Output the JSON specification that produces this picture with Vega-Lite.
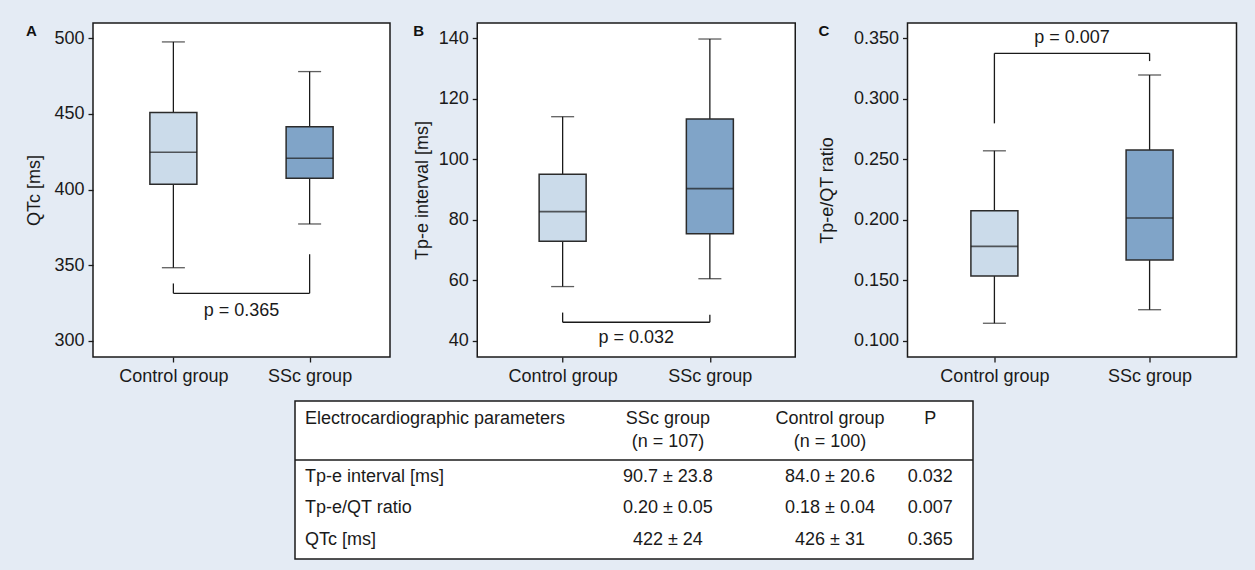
{
  "$schema": "https://vega.github.io/schema/vega-lite/v6.json",
  "background": "#e4ebf4",
  "padding": {"left": 25, "top": 22, "right": 21, "bottom": 11},
  "bounds": "full",
  "spacing": 14,
  "datasets": {
    "qtc": [
      {"group": "Control group", "min": 348.4, "q1": 403.5, "median": 424.7, "q3": 451.0, "max": 497.6},
      {"group": "SSc group", "min": 377.3, "q1": 407.5, "median": 420.7, "q3": 441.6, "max": 478.0}
    ],
    "qtc_p": [{"from": "Control group", "to": "SSc group", "bar": 331.5, "from_end": 338.0, "to_end": 357.3, "label": "p = 0.365", "label_y": 319.5}],
    "tpe": [
      {"group": "Control group", "min": 57.9, "q1": 72.9, "median": 82.7, "q3": 95.1, "max": 114.1},
      {"group": "SSc group", "min": 60.5, "q1": 75.4, "median": 90.3, "q3": 113.3, "max": 139.8}
    ],
    "tpe_p": [{"from": "Control group", "to": "SSc group", "bar": 46.1, "from_end": 49.3, "to_end": 48.6, "label": "p = 0.032", "label_y": 40.8}],
    "ratio": [
      {"group": "Control group", "min": 0.1144, "q1": 0.1535, "median": 0.178, "q3": 0.2075, "max": 0.257},
      {"group": "SSc group", "min": 0.1256, "q1": 0.1667, "median": 0.2014, "q3": 0.2577, "max": 0.3197}
    ],
    "ratio_p": [{"from": "Control group", "to": "SSc group", "bar": 0.3376, "from_end": 0.2797, "to_end": 0.3312, "label": "p = 0.007", "label_y": 0.3507}],
    "table": [
      {"param": "Tp-e interval [ms]", "ssc": "90.7 ± 23.8", "control": "84.0 ± 20.6", "p": "0.032"},
      {"param": "Tp-e/QT ratio", "ssc": "0.20 ± 0.05", "control": "0.18 ± 0.04", "p": "0.007"},
      {"param": "QTc [ms]", "ssc": "422 ± 24", "control": "426 ± 31", "p": "0.365"}
    ],
    "header": [
      {"c1": "Electrocardiographic parameters", "c2": "SSc group\n(n = 107)", "c3": "Control group\n(n = 100)", "c4": "P"}
    ],
    "separator": [{"line": "header separator"}]
  },
  "vconcat": [
    {
      "hconcat": [
        {
          "width": 297, "height": 334,
          "title": {"text": "A", "anchor": "start", "frame": "bounds", "fontSize": 15, "fontWeight": "bold", "offset": -16},
          "data": {"name": "qtc"},
          "layer": [
            {"mark": {"type": "rule", "color": "#1a1a1a", "strokeWidth": 1.3},
             "encoding": {
               "x": {"field": "group", "type": "nominal", "scale": {"type": "point", "padding": 0.59, "domain": ["Control group", "SSc group"]}, "axis": {"title": null, "labelAngle": 0}},
               "y": {"field": "min", "type": "quantitative", "scale": {"domain": [289.4, 510.1], "nice": false, "zero": false}, "axis": {"title": "QTc [ms]", "values": [300, 350, 400, 450, 500], "titlePadding": 10}},
               "y2": {"field": "max"}}},
            {"mark": {"type": "bar", "size": 47, "stroke": "#2b2b2b", "strokeWidth": 1.5},
             "encoding": {"x": {"field": "group", "type": "nominal"}, "y": {"field": "q1", "type": "quantitative"}, "y2": {"field": "q3"},
               "fill": {"field": "group", "type": "nominal", "scale": {"domain": ["Control group", "SSc group"], "range": ["#cbdbea", "#80a4c8"]}, "legend": null}}},
            {"mark": {"type": "tick", "size": 47, "thickness": 1.6, "color": "#1a1a1a"},
             "encoding": {"x": {"field": "group", "type": "nominal"}, "y": {"field": "median", "type": "quantitative"}}},
            {"mark": {"type": "tick", "size": 23, "thickness": 1.3, "color": "#1a1a1a"},
             "encoding": {"x": {"field": "group", "type": "nominal"}, "y": {"field": "min", "type": "quantitative"}}},
            {"mark": {"type": "tick", "size": 23, "thickness": 1.3, "color": "#1a1a1a"},
             "encoding": {"x": {"field": "group", "type": "nominal"}, "y": {"field": "max", "type": "quantitative"}}},
            {"data": {"name": "qtc_p"}, "mark": {"type": "rule", "color": "#1a1a1a", "strokeWidth": 1.3},
             "encoding": {"x": {"field": "from", "type": "nominal"}, "x2": {"field": "to"}, "y": {"field": "bar", "type": "quantitative"}}},
            {"data": {"name": "qtc_p"}, "mark": {"type": "rule", "color": "#1a1a1a", "strokeWidth": 1.3},
             "encoding": {"x": {"field": "from", "type": "nominal"}, "y": {"field": "bar", "type": "quantitative"}, "y2": {"field": "from_end"}}},
            {"data": {"name": "qtc_p"}, "mark": {"type": "rule", "color": "#1a1a1a", "strokeWidth": 1.3},
             "encoding": {"x": {"field": "to", "type": "nominal"}, "y": {"field": "bar", "type": "quantitative"}, "y2": {"field": "to_end"}}},
            {"data": {"name": "qtc_p"}, "mark": {"type": "text", "fontSize": 18, "baseline": "middle", "color": "#1a1a1a"},
             "encoding": {"text": {"field": "label"}, "y": {"field": "label_y", "type": "quantitative"}}}
          ]
        },
        {
          "width": 318, "height": 334,
          "title": {"text": "B", "anchor": "start", "frame": "bounds", "fontSize": 15, "fontWeight": "bold", "offset": -16},
          "data": {"name": "tpe"},
          "layer": [
            {"mark": {"type": "rule", "color": "#1a1a1a", "strokeWidth": 1.3},
             "encoding": {
               "x": {"field": "group", "type": "nominal", "scale": {"type": "point", "padding": 0.58, "domain": ["Control group", "SSc group"]}, "axis": {"title": null, "labelAngle": 0}},
               "y": {"field": "min", "type": "quantitative", "scale": {"domain": [34.6, 145.1], "nice": false, "zero": false}, "axis": {"title": "Tp-e interval [ms]", "values": [40, 60, 80, 100, 120, 140], "titlePadding": 7}},
               "y2": {"field": "max"}}},
            {"mark": {"type": "bar", "size": 47, "stroke": "#2b2b2b", "strokeWidth": 1.5},
             "encoding": {"x": {"field": "group", "type": "nominal"}, "y": {"field": "q1", "type": "quantitative"}, "y2": {"field": "q3"},
               "fill": {"field": "group", "type": "nominal", "scale": {"domain": ["Control group", "SSc group"], "range": ["#cbdbea", "#80a4c8"]}, "legend": null}}},
            {"mark": {"type": "tick", "size": 47, "thickness": 1.6, "color": "#1a1a1a"},
             "encoding": {"x": {"field": "group", "type": "nominal"}, "y": {"field": "median", "type": "quantitative"}}},
            {"mark": {"type": "tick", "size": 23, "thickness": 1.3, "color": "#1a1a1a"},
             "encoding": {"x": {"field": "group", "type": "nominal"}, "y": {"field": "min", "type": "quantitative"}}},
            {"mark": {"type": "tick", "size": 23, "thickness": 1.3, "color": "#1a1a1a"},
             "encoding": {"x": {"field": "group", "type": "nominal"}, "y": {"field": "max", "type": "quantitative"}}},
            {"data": {"name": "tpe_p"}, "mark": {"type": "rule", "color": "#1a1a1a", "strokeWidth": 1.3},
             "encoding": {"x": {"field": "from", "type": "nominal"}, "x2": {"field": "to"}, "y": {"field": "bar", "type": "quantitative"}}},
            {"data": {"name": "tpe_p"}, "mark": {"type": "rule", "color": "#1a1a1a", "strokeWidth": 1.3},
             "encoding": {"x": {"field": "from", "type": "nominal"}, "y": {"field": "bar", "type": "quantitative"}, "y2": {"field": "from_end"}}},
            {"data": {"name": "tpe_p"}, "mark": {"type": "rule", "color": "#1a1a1a", "strokeWidth": 1.3},
             "encoding": {"x": {"field": "to", "type": "nominal"}, "y": {"field": "bar", "type": "quantitative"}, "y2": {"field": "to_end"}}},
            {"data": {"name": "tpe_p"}, "mark": {"type": "text", "fontSize": 18, "baseline": "middle", "color": "#1a1a1a"},
             "encoding": {"text": {"field": "label"}, "y": {"field": "label_y", "type": "quantitative"}}}
          ]
        },
        {
          "width": 329, "height": 334,
          "title": {"text": "C", "anchor": "start", "frame": "bounds", "fontSize": 15, "fontWeight": "bold", "offset": -16},
          "data": {"name": "ratio"},
          "layer": [
            {"mark": {"type": "rule", "color": "#1a1a1a", "strokeWidth": 1.3},
             "encoding": {
               "x": {"field": "group", "type": "nominal", "scale": {"type": "point", "padding": 0.56, "domain": ["Control group", "SSc group"]}, "axis": {"title": null, "labelAngle": 0}},
               "y": {"field": "min", "type": "quantitative", "scale": {"domain": [0.0865, 0.3627], "nice": false, "zero": false}, "axis": {"title": "Tp-e/QT ratio", "values": [0.1, 0.15, 0.2, 0.25, 0.3, 0.35], "format": ".3f", "titlePadding": 17}},
               "y2": {"field": "max"}}},
            {"mark": {"type": "bar", "size": 47, "stroke": "#2b2b2b", "strokeWidth": 1.5},
             "encoding": {"x": {"field": "group", "type": "nominal"}, "y": {"field": "q1", "type": "quantitative"}, "y2": {"field": "q3"},
               "fill": {"field": "group", "type": "nominal", "scale": {"domain": ["Control group", "SSc group"], "range": ["#cbdbea", "#80a4c8"]}, "legend": null}}},
            {"mark": {"type": "tick", "size": 47, "thickness": 1.6, "color": "#1a1a1a"},
             "encoding": {"x": {"field": "group", "type": "nominal"}, "y": {"field": "median", "type": "quantitative"}}},
            {"mark": {"type": "tick", "size": 23, "thickness": 1.3, "color": "#1a1a1a"},
             "encoding": {"x": {"field": "group", "type": "nominal"}, "y": {"field": "min", "type": "quantitative"}}},
            {"mark": {"type": "tick", "size": 23, "thickness": 1.3, "color": "#1a1a1a"},
             "encoding": {"x": {"field": "group", "type": "nominal"}, "y": {"field": "max", "type": "quantitative"}}},
            {"data": {"name": "ratio_p"}, "mark": {"type": "rule", "color": "#1a1a1a", "strokeWidth": 1.3},
             "encoding": {"x": {"field": "from", "type": "nominal"}, "x2": {"field": "to"}, "y": {"field": "bar", "type": "quantitative"}}},
            {"data": {"name": "ratio_p"}, "mark": {"type": "rule", "color": "#1a1a1a", "strokeWidth": 1.3},
             "encoding": {"x": {"field": "from", "type": "nominal"}, "y": {"field": "bar", "type": "quantitative"}, "y2": {"field": "from_end"}}},
            {"data": {"name": "ratio_p"}, "mark": {"type": "rule", "color": "#1a1a1a", "strokeWidth": 1.3},
             "encoding": {"x": {"field": "to", "type": "nominal"}, "y": {"field": "bar", "type": "quantitative"}, "y2": {"field": "to_end"}}},
            {"data": {"name": "ratio_p"}, "mark": {"type": "text", "fontSize": 18, "baseline": "middle", "color": "#1a1a1a"},
             "encoding": {"text": {"field": "label"}, "y": {"field": "label_y", "type": "quantitative"}}}
          ]
        }
      ],
      "spacing": 21.25,
      "bounds": "full"
    },
    {
      "hconcat": [
        {
          "width": 200, "height": 158,
          "data": {"values": []},
          "mark": "point",
          "view": {"fill": "#e4ebf4", "stroke": null}
        },
        {
          "width": 678, "height": 158,
          "layer": [
            {"data": {"name": "header"}, "mark": {"type": "text", "align": "left", "baseline": "middle", "fontSize": 18, "color": "#1a1a1a"},
             "encoding": {"text": {"field": "c1"},
               "x": {"datum": "Electrocardiographic parameters", "type": "nominal", "scale": {"type": "point", "padding": 0, "align": 0.0147}, "axis": null},
               "y": {"datum": "header", "type": "nominal", "scale": {"type": "point", "padding": 0, "align": 0.114}, "axis": null}}},
            {"data": {"name": "header"}, "mark": {"type": "text", "align": "center", "baseline": "middle", "lineBreak": "\n", "lineHeight": 23, "fontSize": 18, "color": "#1a1a1a"},
             "encoding": {"text": {"field": "c2"},
               "x": {"datum": "SSc group", "type": "nominal", "scale": {"type": "point", "padding": 0, "align": 0.55}, "axis": null},
               "y": {"datum": "header", "type": "nominal", "scale": {"type": "point", "padding": 0, "align": 0.114}, "axis": null}}},
            {"data": {"name": "header"}, "mark": {"type": "text", "align": "center", "baseline": "middle", "lineBreak": "\n", "lineHeight": 23, "fontSize": 18, "color": "#1a1a1a"},
             "encoding": {"text": {"field": "c3"},
               "x": {"datum": "Control group", "type": "nominal", "scale": {"type": "point", "padding": 0, "align": 0.789}, "axis": null},
               "y": {"datum": "header", "type": "nominal", "scale": {"type": "point", "padding": 0, "align": 0.114}, "axis": null}}},
            {"data": {"name": "header"}, "mark": {"type": "text", "align": "center", "baseline": "middle", "fontSize": 18, "color": "#1a1a1a"},
             "encoding": {"text": {"field": "c4"},
               "x": {"datum": "P", "type": "nominal", "scale": {"type": "point", "padding": 0, "align": 0.937}, "axis": null},
               "y": {"datum": "header", "type": "nominal", "scale": {"type": "point", "padding": 0, "align": 0.114}, "axis": null}}},
            {"data": {"name": "separator"}, "mark": {"type": "rule", "color": "#1a1a1a", "strokeWidth": 1.3},
             "encoding": {"y": {"datum": "separator", "type": "nominal", "scale": {"type": "point", "padding": 0, "align": 0.3734}, "axis": null}}},
            {"data": {"name": "table"}, "mark": {"type": "text", "align": "left", "baseline": "middle", "fontSize": 18, "color": "#1a1a1a"},
             "encoding": {"text": {"field": "param"},
               "x": {"datum": "Electrocardiographic parameters", "type": "nominal", "scale": {"type": "point", "padding": 0, "align": 0.0147}, "axis": null},
               "y": {"field": "param", "type": "nominal", "scale": {"type": "point", "padding": 1, "align": 0.7, "domain": ["Electrocardiographic parameters", "Tp-e interval [ms]", "Tp-e/QT ratio", "QTc [ms]"]}, "axis": null}}},
            {"data": {"name": "table"}, "mark": {"type": "text", "align": "center", "baseline": "middle", "fontSize": 18, "color": "#1a1a1a"},
             "encoding": {"text": {"field": "ssc"},
               "x": {"datum": "SSc group", "type": "nominal", "scale": {"type": "point", "padding": 0, "align": 0.55}, "axis": null},
               "y": {"field": "param", "type": "nominal", "scale": {"type": "point", "padding": 1, "align": 0.7, "domain": ["Electrocardiographic parameters", "Tp-e interval [ms]", "Tp-e/QT ratio", "QTc [ms]"]}, "axis": null}}},
            {"data": {"name": "table"}, "mark": {"type": "text", "align": "center", "baseline": "middle", "fontSize": 18, "color": "#1a1a1a"},
             "encoding": {"text": {"field": "control"},
               "x": {"datum": "Control group", "type": "nominal", "scale": {"type": "point", "padding": 0, "align": 0.789}, "axis": null},
               "y": {"field": "param", "type": "nominal", "scale": {"type": "point", "padding": 1, "align": 0.7, "domain": ["Electrocardiographic parameters", "Tp-e interval [ms]", "Tp-e/QT ratio", "QTc [ms]"]}, "axis": null}}},
            {"data": {"name": "table"}, "mark": {"type": "text", "align": "center", "baseline": "middle", "fontSize": 18, "color": "#1a1a1a"},
             "encoding": {"text": {"field": "p"},
               "x": {"datum": "P", "type": "nominal", "scale": {"type": "point", "padding": 0, "align": 0.937}, "axis": null},
               "y": {"field": "param", "type": "nominal", "scale": {"type": "point", "padding": 1, "align": 0.7, "domain": ["Electrocardiographic parameters", "Tp-e interval [ms]", "Tp-e/QT ratio", "QTc [ms]"]}, "axis": null}}}
          ],
          "resolve": {"scale": {"x": "independent", "y": "independent"}}
        }
      ],
      "spacing": 0,
      "bounds": "full"
    }
  ],
  "config": {
    "font": "Liberation Sans",
    "view": {"stroke": "#1a1a1a", "strokeWidth": 1.5, "fill": "white"},
    "title": {"font": "Liberation Sans", "color": "#111111"},
    "axis": {
      "labelFont": "Liberation Sans",
      "titleFont": "Liberation Sans",
      "labelFontSize": 18, "titleFontSize": 18, "titleFontWeight": "normal",
      "labelColor": "#1a1a1a", "titleColor": "#1a1a1a", "tickColor": "#1a1a1a",
      "tickSize": 5, "tickWidth": 1.3, "domain": false, "grid": false, "labelPadding": 4
    },
    "axisX": {"labelPadding": 5}
  }
}
